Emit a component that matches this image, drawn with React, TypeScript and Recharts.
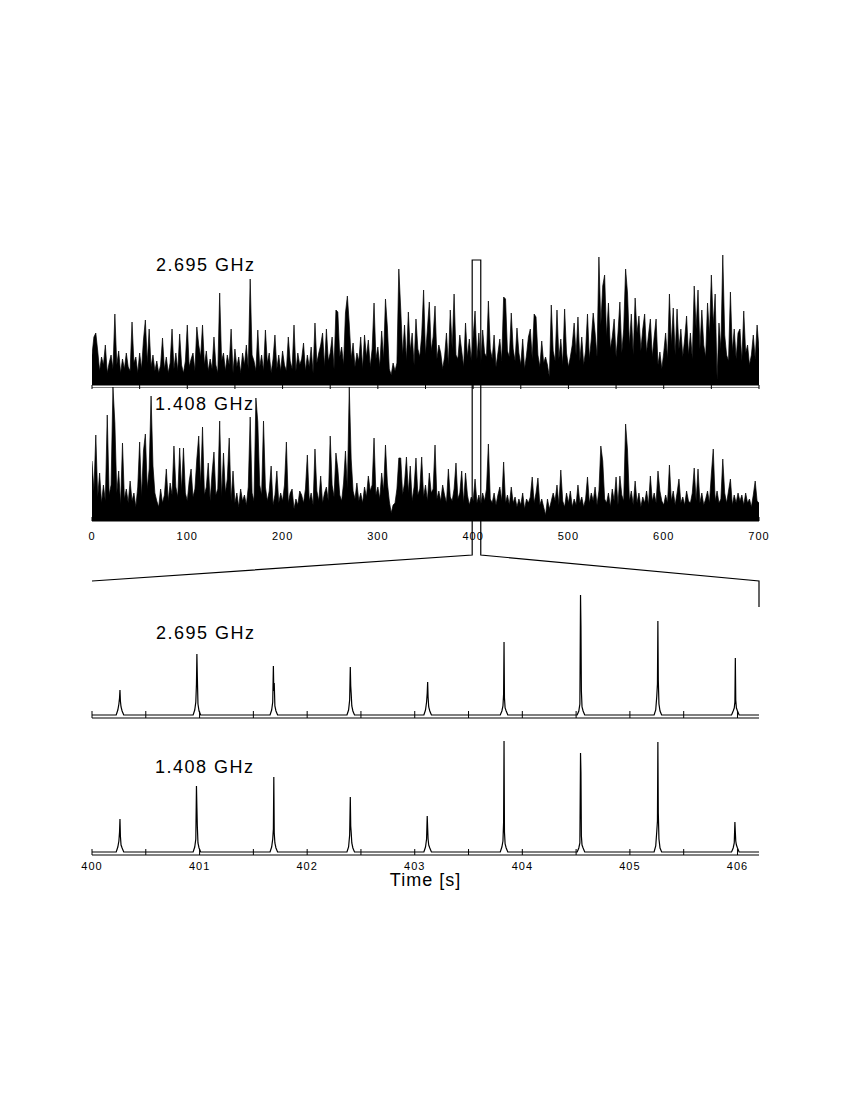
import React from 'react';
import { AreaChart, Area, LineChart, Line, XAxis, YAxis, ReferenceLine } from 'recharts';

const FONT = '"Liberation Sans", Arial, Helvetica, sans-serif';

// ---------- top panels: 0..700 s, one sample every 2 s ----------
const scanStart = 0;
const scanStep = 2;

const flux2695 = [
  30, 48, 52, 34, 14, 28, 20, 40, 12, 22,
  30, 16, 71, 20, 34, 12, 26, 16, 32, 18,
  14, 63, 22, 28, 12, 32, 16, 45, 65, 22,
  56, 18, 30, 14, 24, 12, 20, 47, 16, 28,
  12, 22, 56, 16, 32, 14, 51, 20, 12, 24,
  60, 18, 26, 32, 14, 58, 40, 28, 60, 20,
  34, 14, 26, 16, 48, 20, 12, 92, 24, 32,
  14, 30, 20, 56, 12, 36, 18, 28, 12, 32,
  20, 40, 16, 106, 30, 24, 14, 55, 18, 30,
  14, 55, 22, 32, 12, 26, 50, 16, 30, 14,
  34, 20, 14, 48, 24, 16, 60, 14, 32, 20,
  26, 42, 14, 30, 18, 38, 12, 62, 22, 32,
  40, 52, 18, 56, 24, 32, 48, 16, 75, 73,
  28, 38, 20, 72, 89, 61, 26, 42, 18, 32,
  24, 48, 16, 50, 28, 45, 18, 36, 82, 26,
  38, 18, 54, 26, 86, 58, 16, 10, 22, 14,
  22, 116, 76, 30, 60, 24, 73, 34, 52, 20,
  66, 36, 28, 50, 95, 30, 56, 83, 34, 48,
  79, 26, 40, 32, 16, 28, 52, 20, 75, 36,
  91, 30, 26, 50, 34, 18, 62, 28, 46, 24,
  48, 74, 26, 52, 20, 55, 32, 28, 84, 36,
  26, 50, 18, 32, 46, 24, 88, 86, 34, 28,
  72, 36, 24, 57, 32, 20, 46, 16, 30, 48,
  56, 26, 71, 68, 30, 18, 44, 22, 28, 20,
  8, 80, 34, 24, 75, 26, 46, 20, 76, 32,
  18, 28, 40, 62, 30, 68, 24, 48, 20, 34,
  71, 26, 46, 72, 52, 28, 128, 60, 99, 110,
  48, 82, 36, 48, 66, 28, 52, 83, 32, 56,
  116, 92, 40, 71, 30, 87, 52, 69, 34, 56,
  71, 32, 50, 66, 28, 48, 66, 20, 33, 16,
  32, 52, 26, 91, 40, 77, 30, 76, 36, 56,
  28, 46, 69, 30, 52, 26, 99, 56, 95, 36,
  75, 40, 28, 82, 50, 110, 60, 91, 6, 62,
  36, 130, 50, 30, 24, 93, 34, 56, 26, 52,
  56, 24, 74, 32, 40, 20, 30, 50, 26, 60,
  36,
];

const flux1408 = [
  60, 30, 86, 24, 48, 18, 36, 20, 106, 26,
  36, 134, 98, 28, 50, 16, 78, 22, 32, 18,
  40, 20, 28, 14, 34, 79, 24, 70, 87, 32,
  52, 125, 55, 28, 20, 14, 32, 18, 26, 52,
  20, 38, 26, 75, 34, 24, 73, 30, 73, 28,
  20, 40, 52, 24, 32, 62, 85, 36, 94, 26,
  34, 58, 20, 48, 69, 26, 32, 100, 24, 68,
  28, 42, 83, 20, 50, 18, 28, 14, 32, 20,
  26, 16, 34, 104, 28, 20, 123, 99, 36, 26,
  100, 34, 20, 30, 55, 16, 26, 50, 18, 28,
  20, 36, 79, 18, 28, 32, 12, 22, 16, 30,
  26, 18, 32, 66, 20, 28, 16, 72, 30, 20,
  45, 18, 28, 34, 20, 85, 36, 24, 68, 52,
  26, 20, 38, 70, 32, 134, 62, 30, 22, 38,
  20, 28, 18, 34, 24, 45, 30, 36, 83, 26,
  34, 22, 48, 30, 76, 38, 20, 8, 16, 18,
  32, 63, 63, 26, 38, 64, 28, 55, 20, 34,
  63, 26, 32, 64, 24, 36, 20, 48, 28, 32,
  76, 22, 30, 20, 36, 26, 18, 52, 24, 20,
  32, 58, 22, 28, 50, 18, 48, 26, 16, 24,
  20, 42, 18, 26, 16, 28, 20, 32, 77, 22,
  18, 28, 16, 26, 34, 20, 59, 18, 26, 16,
  34, 18, 24, 14, 22, 16, 28, 12, 22, 18,
  24, 44, 18, 28, 43, 16, 22, 14, 6, 22,
  12, 20, 28, 20, 36, 16, 51, 20, 14, 28,
  18, 30, 14, 22, 16, 36, 18, 24, 14, 22,
  44, 18, 28, 20, 34, 16, 30, 75, 60, 22,
  18, 28, 14, 32, 20, 44, 16, 45, 26, 20,
  97, 71, 20, 30, 16, 40, 18, 28, 14, 24,
  18, 30, 16, 45, 20, 28, 18, 50, 30, 20,
  16, 26, 18, 56, 20, 30, 16, 28, 42, 18,
  24, 16, 30, 20, 18, 28, 53, 20, 52, 18,
  28, 16, 22, 30, 18, 47, 72, 20, 30, 18,
  22, 62, 28, 18, 30, 42, 16, 26, 18, 28,
  20, 26, 16, 28, 18, 22, 14, 26, 40, 20,
  18,
];

const scanTicks = [0, 50, 100, 150, 200, 250, 300, 350, 400, 450, 500, 550, 600, 650, 700];
const scanLabels = [0, 100, 200, 300, 400, 500, 600, 700];

// ---------- bottom panels: 400..406.2 s, individual pulses ----------
const zoomTimes = [
  400.0,
  400.225, 400.24, 400.25, 400.256, 400.26, 400.264, 400.27, 400.28, 400.295,
  400.94, 400.955, 400.965, 400.971, 400.975, 400.979, 400.985, 400.995, 401.01,
  401.655, 401.67, 401.68, 401.686, 401.69, 401.694, 401.7, 401.71, 401.725,
  402.37, 402.385, 402.395, 402.401, 402.405, 402.409, 402.415, 402.425, 402.44,
  403.085, 403.1, 403.11, 403.116, 403.12, 403.124, 403.13, 403.14, 403.155,
  403.795, 403.81, 403.82, 403.826, 403.83, 403.834, 403.84, 403.85, 403.865,
  404.51, 404.525, 404.535, 404.541, 404.545, 404.549, 404.555, 404.565, 404.58,
  405.225, 405.24, 405.25, 405.256, 405.26, 405.264, 405.27, 405.28, 405.295,
  405.945, 405.96, 405.97, 405.976, 405.98, 405.984, 405.99, 406.0, 406.015,
  406.2,
];

const zoom2695 = [
  3,
  3, 8, 14, 20, 28, 17, 11, 7, 3,
  3, 8, 16, 34, 64, 42, 14, 7, 3,
  3, 8, 16, 52, 27, 35, 12, 7, 3,
  3, 8, 18, 51, 32, 25, 12, 7, 3,
  3, 8, 16, 25, 36, 21, 11, 7, 3,
  3, 7, 12, 24, 76, 20, 10, 7, 3,
  3, 7, 14, 123, 92, 27, 11, 7, 3,
  3, 8, 22, 34, 97, 38, 14, 7, 3,
  3, 7, 10, 16, 60, 18, 10, 7, 3,
  3,
];

const zoom1408 = [
  3,
  3, 8, 14, 23, 36, 19, 10, 7, 3,
  3, 8, 16, 69, 48, 29, 12, 7, 3,
  3, 8, 16, 26, 78, 22, 12, 7, 3,
  3, 8, 20, 58, 29, 23, 12, 7, 3,
  3, 8, 16, 39, 27, 16, 10, 7, 3,
  3, 8, 14, 33, 114, 23, 11, 7, 3,
  3, 7, 12, 102, 82, 19, 10, 7, 3,
  3, 9, 24, 34, 113, 42, 16, 7, 3,
  3, 7, 12, 33, 23, 14, 10, 7, 3,
  3,
];

const zoomTicks = [400, 400.5, 401, 401.5, 402, 402.5, 403, 403.5, 404, 404.5, 405, 405.5, 406];
const zoomLabels = [400, 401, 402, 403, 404, 405, 406];

// ---------- zoom-window annotation (x in seconds of the top scale, y in annotation units) ----------
const boxX = [0, 399, 399, 408, 408, 700, 700];
const boxY = [331, 305, 10, 10, 305, 331, 357];

const bandLabels = ['2.695 GHz', '1.408 GHz'];

const W = 850;
const M = { top: 0, right: 91, bottom: 0, left: 92 };

const tickStyle = { fontSize: 11, fill: '#000', fontFamily: FONT, letterSpacing: 1 };

function BandLabel({ text, left, top }: { text: string; left: number; top: number }) {
  return (
    <div
      style={{
        position: 'absolute',
        left,
        top,
        fontFamily: FONT,
        fontSize: 18,
        lineHeight: '18px',
        letterSpacing: 1.5,
        color: '#000',
        whiteSpace: 'nowrap',
      }}
    >
      {text}
    </div>
  );
}

export default function App() {
  const n = Math.min(flux2695.length, flux1408.length);
  const scanRows = Array.from({ length: n }, (_, i) => ({
    t: scanStart + i * scanStep,
    a: flux2695[i],
    b: flux1408[i],
  }));
  const zoomRows = zoomTimes.map((t, i) => ({ t, a: zoom2695[i], b: zoom1408[i] }));
  const boxRows = boxX.map((x, i) => ({ x, y: boxY[i] }));

  const axisLine = { stroke: '#000', strokeWidth: 1 };

  return (
    <div style={{ position: 'absolute', left: 0, top: 0, width: W, height: 1100, background: '#fff' }}>
      {/* Panel 1: 2.695 GHz full scan */}
      <div style={{ position: 'absolute', left: 0, top: 247 }}>
        <AreaChart width={W} height={144} data={scanRows} margin={M}>
          <XAxis
            dataKey="t"
            type="number"
            domain={[0, 700]}
            allowDataOverflow
            ticks={scanTicks}
            interval={0}
            tickFormatter={() => ''}
            tickSize={4}
            height={6}
            axisLine={axisLine}
            tickLine={{ stroke: '#000' }}
          />
          <YAxis type="number" domain={[0, 138]} allowDataOverflow width={0} tick={false} tickLine={false} axisLine={axisLine} />
          <Area
            type="linear"
            dataKey="a"
            stroke="#000"
            strokeWidth={0.7}
            fill="#000"
            fillOpacity={1}
            dot={false}
            activeDot={false}
            isAnimationActive={false}
          />
        </AreaChart>
      </div>

      {/* Panel 2: 1.408 GHz full scan */}
      <div style={{ position: 'absolute', left: 0, top: 387 }}>
        <AreaChart width={W} height={158} data={scanRows} margin={M}>
          <XAxis
            dataKey="t"
            type="number"
            domain={[0, 700]}
            allowDataOverflow
            ticks={scanTicks}
            interval={0}
            tickFormatter={(v: number) => (scanLabels.includes(v) ? String(v) : '')}
            tickSize={-4}
            tickMargin={15}
            height={24}
            axisLine={axisLine}
            tickLine={{ stroke: '#000' }}
            tick={tickStyle}
          />
          <YAxis type="number" domain={[0, 134]} allowDataOverflow width={0} tick={false} tickLine={false} axisLine={axisLine} />
          <ReferenceLine y={134} stroke="#000" strokeWidth={1} />
          <Area
            type="linear"
            dataKey="b"
            stroke="#000"
            strokeWidth={0.7}
            fill="#000"
            fillOpacity={1}
            dot={false}
            activeDot={false}
            isAnimationActive={false}
          />
        </AreaChart>
      </div>

      {/* Panel 3: 2.695 GHz zoom */}
      <div style={{ position: 'absolute', left: 0, top: 581 }}>
        <LineChart width={W} height={138} data={zoomRows} margin={M}>
          <XAxis
            dataKey="t"
            type="number"
            domain={[400, 406.2]}
            allowDataOverflow
            ticks={zoomTicks}
            interval={0}
            tickFormatter={() => ''}
            tickSize={-7}
            height={1}
            axisLine={axisLine}
            tickLine={{ stroke: '#000' }}
          />
          <YAxis type="number" domain={[0, 137]} allowDataOverflow width={0} tick={false} tickLine={false} axisLine={axisLine} />
          <Line
            type="linear"
            dataKey="a"
            stroke="#000"
            strokeWidth={1.2}
            dot={false}
            activeDot={false}
            isAnimationActive={false}
          />
        </LineChart>
      </div>

      {/* Panel 4: 1.408 GHz zoom */}
      <div style={{ position: 'absolute', left: 0, top: 719 }}>
        <LineChart width={W} height={172} data={zoomRows} margin={M}>
          <XAxis
            dataKey="t"
            type="number"
            domain={[400, 406.2]}
            allowDataOverflow
            ticks={zoomTicks}
            interval={0}
            tickFormatter={(v: number) => (zoomLabels.includes(v) ? String(v) : '')}
            tickSize={-6}
            tickMargin={13}
            height={36}
            axisLine={axisLine}
            tickLine={{ stroke: '#000' }}
            tick={tickStyle}
            label={{
              value: 'Time [s]',
              position: 'insideBottom',
              offset: 5,
              fontSize: 18,
              fill: '#000',
              fontFamily: FONT,
              letterSpacing: 1,
            }}
          />
          <YAxis type="number" domain={[0, 136]} allowDataOverflow width={0} tick={false} tickLine={false} axisLine={axisLine} />
          <Line
            type="linear"
            dataKey="b"
            stroke="#000"
            strokeWidth={1.2}
            dot={false}
            activeDot={false}
            isAnimationActive={false}
          />
        </LineChart>
      </div>

      {/* Zoom window and connector lines */}
      <div style={{ position: 'absolute', left: 0, top: 250 }}>
        <LineChart width={W} height={360} data={boxRows} margin={M}>
          <XAxis dataKey="x" type="number" domain={[0, 700]} hide />
          <YAxis type="number" domain={[0, 360]} reversed hide />
          <Line
            type="linear"
            dataKey="y"
            stroke="#000"
            strokeWidth={1.2}
            dot={false}
            activeDot={false}
            isAnimationActive={false}
          />
        </LineChart>
      </div>

      <BandLabel text={bandLabels[0]} left={156} top={256} />
      <BandLabel text={bandLabels[1]} left={155} top={395} />
      <BandLabel text={bandLabels[0]} left={156} top={624} />
      <BandLabel text={bandLabels[1]} left={155} top={758} />
    </div>
  );
}
